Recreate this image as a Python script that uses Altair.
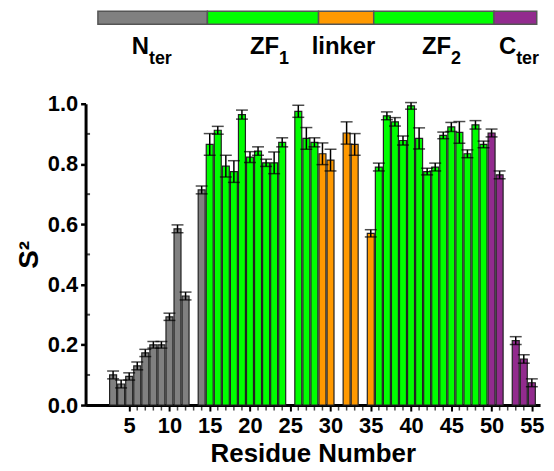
import altair as alt
import pandas as pd

# ---- data ----
residues = [3, 4, 5, 6, 7, 8, 9, 10, 11, 12, 14,
            15, 16, 17, 18, 19, 20, 21, 22, 23, 24, 26, 27, 28,
            29, 30, 32, 33, 35,
            36, 37, 38, 39, 40, 41, 42, 43, 44, 45, 46, 47, 48, 49,
            50, 51, 53, 54, 55]
s2 = [0.100, 0.070, 0.095, 0.130, 0.173, 0.200, 0.200, 0.293, 0.585, 0.362, 0.714,
      0.865, 0.912, 0.793, 0.775, 0.964, 0.823, 0.843, 0.804, 0.804, 0.872, 0.975, 0.885, 0.872,
      0.834, 0.813, 0.903, 0.865, 0.570,
      0.790, 0.960, 0.940, 0.878, 0.993, 0.885, 0.775, 0.790, 0.895, 0.923, 0.905, 0.834, 0.930, 0.865,
      0.903, 0.764, 0.214, 0.153, 0.074]
s2_err = [0.013, 0.013, 0.012, 0.013, 0.012, 0.011, 0.011, 0.012, 0.013, 0.013, 0.013,
          0.036, 0.013, 0.036, 0.036, 0.015, 0.018, 0.014, 0.012, 0.036, 0.015, 0.020, 0.036, 0.015,
          0.036, 0.036, 0.037, 0.036, 0.012,
          0.013, 0.013, 0.014, 0.015, 0.011, 0.035, 0.011, 0.013, 0.011, 0.015, 0.036, 0.013, 0.014, 0.011,
          0.013, 0.013, 0.013, 0.014, 0.013]

regions = ["Nter", "ZF1", "linker", "ZF2", "Cter"]
region_first = [1, 15, 29, 36, 50]
region_last = [14, 28, 35, 49, 55]
region_colors = ["#808080", "#00FF00", "#FF9900", "#00FF00", "#922B8E"]

# domain diagram above the plot
bar_start = [1.7, 15.0, 28.5, 35.2, 49.8]
bar_end = [15.0, 28.5, 35.2, 49.8, 55.0]
label_main = ["N", "ZF", "linker", "ZF", "C"]
label_sub = ["ter", "1", "", "2", "ter"]
label_anchor = [7.9, 23.7, 35.4, 44.6, 52.5]

x_domain = [0.2, 55.4]
y_domain = [0.0, 1.0]
y_major = [0.0, 0.2, 0.4, 0.6, 0.8, 1.0]
y_minor = [0.1, 0.3, 0.5, 0.7, 0.9]
x_major = [5, 10, 15, 20, 25, 30, 35, 40, 45, 50, 55]
x_minor = [v for v in range(5, 56) if v % 5 != 0]

# ---- tables ----
def region_for(r):
    for name, a, b in zip(regions, region_first, region_last):
        if a <= r <= b:
            return name
    return regions[-1]

df = pd.DataFrame({"residue": residues, "s2": s2, "err": s2_err})
df["region"] = [region_for(r) for r in residues]
df["lo"] = df["s2"] - df["err"]
df["hi"] = df["s2"] + df["err"]

dom = pd.DataFrame({"region": regions, "start": bar_start, "end": bar_end,
                    "main": label_main, "sub": label_sub, "anchor": label_anchor})

xminor_df = pd.DataFrame({"residue": x_minor, "s2": [y_domain[0]] * len(x_minor)})
yminor_df = pd.DataFrame({"residue": [x_domain[0]] * len(y_minor), "s2": y_minor})

FONT = "Liberation Sans"
W = 457
xscale = alt.Scale(domain=x_domain, nice=False, zero=False)
yscale = alt.Scale(domain=y_domain, nice=False)
cscale = alt.Scale(domain=regions, range=region_colors)

base = alt.Chart(df)

bars = base.mark_bar(size=7, stroke="#222222", strokeWidth=1.2).encode(
    x=alt.X("residue:Q", scale=xscale, title="Residue Number",
            axis=alt.Axis(values=x_major, tickSize=6, tickWidth=2,
                          labelPadding=5, domainWidth=3, domainColor="black",
                          tickColor="black", labelFontSize=22, labelFont=FONT,
                          labelFontWeight="bold", labelColor="black", titleFontSize=26,
                          titleFont=FONT, titleFontWeight="bold", titleColor="black",
                          titlePadding=4, grid=False, labelFlush=False, labelOverlap=False)),
    y=alt.Y("s2:Q", scale=yscale, title="S²",
            axis=alt.Axis(values=y_major, format=".1f", tickSize=5, tickWidth=2.5,
                          labelPadding=3, domainWidth=3, domainColor="black",
                          tickColor="black", labelFontSize=22, labelFont=FONT,
                          labelFontWeight="bold", labelColor="black", titleFontSize=28,
                          titleFont=FONT, titleFontWeight="bold", titleColor="black",
                          titlePadding=4, grid=False, labelOverlap=False)),
    color=alt.Color("region:N", scale=cscale, legend=None),
)

rules = base.mark_rule(color="black", strokeWidth=1.5).encode(
    x=alt.X("residue:Q", scale=xscale),
    y=alt.Y("lo:Q", scale=yscale),
    y2="hi:Q",
)
cap_hi = base.mark_tick(orient="horizontal", size=12, thickness=1.5, color="black").encode(
    x=alt.X("residue:Q", scale=xscale),
    y=alt.Y("hi:Q", scale=yscale),
)
cap_lo = base.mark_tick(orient="horizontal", size=12, thickness=1.5, color="black").encode(
    x=alt.X("residue:Q", scale=xscale),
    y=alt.Y("lo:Q", scale=yscale),
)
# minor ticks on both axes
xminor = alt.Chart(xminor_df).mark_tick(orient="vertical", size=5, thickness=1.5,
                                        yOffset=3, color="black").encode(
    x=alt.X("residue:Q", scale=xscale),
    y=alt.Y("s2:Q", scale=yscale),
)
yminor = alt.Chart(yminor_df).mark_tick(orient="horizontal", size=5, thickness=2,
                                        xOffset=-3, color="black").encode(
    x=alt.X("residue:Q", scale=xscale),
    y=alt.Y("s2:Q", scale=yscale),
)

main = alt.layer(bars, rules, cap_hi, cap_lo, xminor, yminor).properties(width=W, height=303)

dbar = alt.Chart(dom).mark_rect(stroke="#555555", strokeWidth=1.5).encode(
    x=alt.X("start:Q", scale=xscale, axis=None),
    x2="end:Q",
    color=alt.Color("region:N", scale=cscale, legend=None),
).properties(width=W, height=13)

tmain = alt.Chart(dom).mark_text(align="right", baseline="alphabetic", fontSize=24, dy=-10,
                                 fontWeight="bold", font=FONT, color="black").encode(
    x=alt.X("anchor:Q", scale=xscale, axis=None), text="main:N")
tsub = alt.Chart(dom).mark_text(align="left", baseline="alphabetic", fontSize=18, dy=0,
                                fontWeight="bold", font=FONT, color="black").encode(
    x=alt.X("anchor:Q", scale=xscale, axis=None), text="sub:N")
labels = alt.layer(tmain, tsub).properties(width=W, height=80)

chart = alt.vconcat(dbar, labels, main, spacing=0, bounds="flush").resolve_scale(
    x="independent", y="independent", color="independent"
).resolve_axis(x="independent", y="independent").properties(
    padding={"left": 7, "top": 1, "right": 2, "bottom": 2}
).configure_view(stroke=None)

chart.save("out.html", embed_options={"renderer": "svg", "actions": False})
